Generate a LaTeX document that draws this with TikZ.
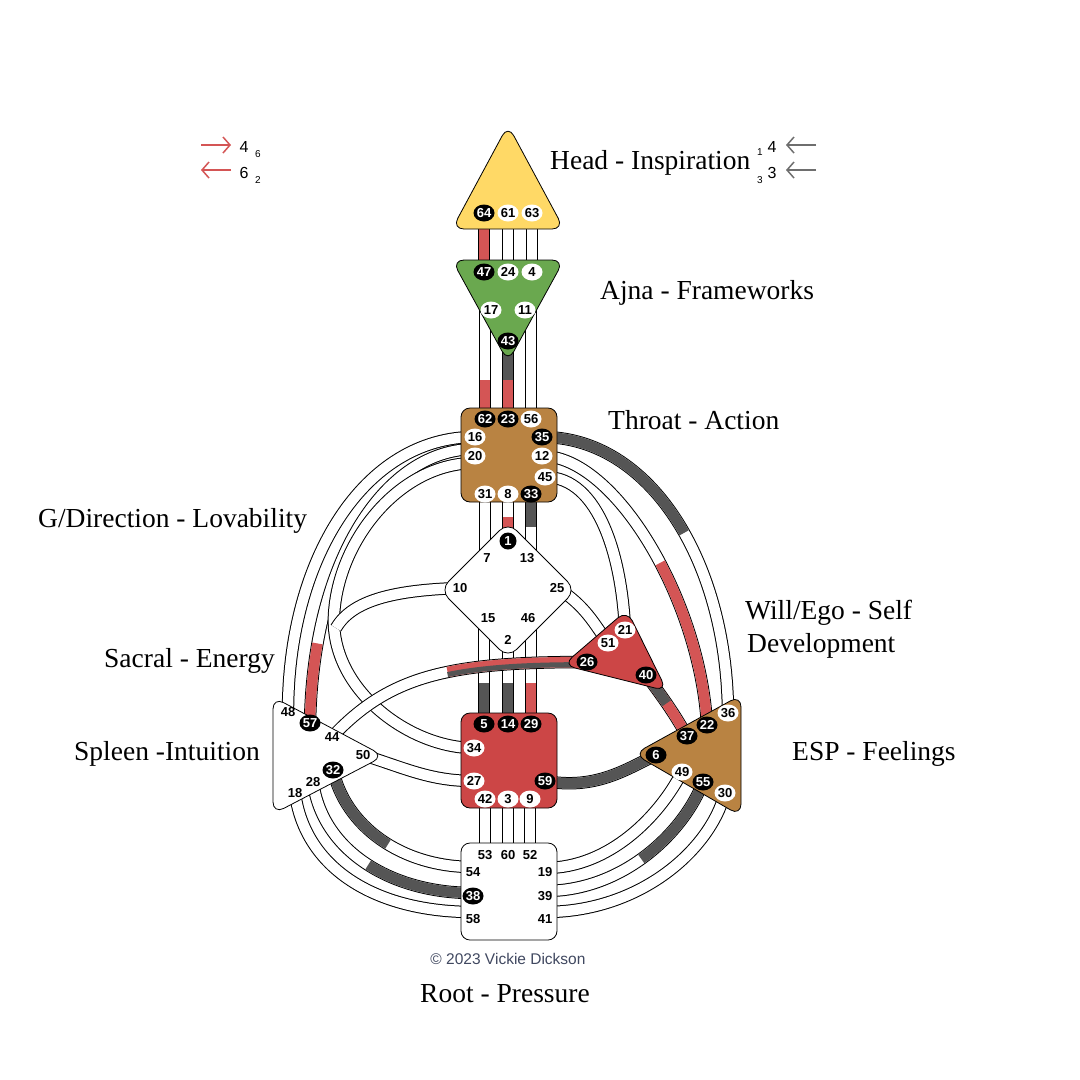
\documentclass[tikz,border=0pt]{standalone}
\usepackage{fontspec}
\setmainfont{Liberation Serif}
\setsansfont{Liberation Sans}
\usetikzlibrary{shapes.geometric,arrows.meta}
\definecolor{headc}{RGB}{255,217,102}
\definecolor{ajnac}{RGB}{106,168,79}
\definecolor{brownc}{RGB}{185,131,66}
\definecolor{redc}{RGB}{204,70,70}
\definecolor{chred}{RGB}{212,85,85}
\definecolor{chgray}{RGB}{85,85,85}
\definecolor{copyc}{RGB}{64,72,96}
\definecolor{arrgray}{RGB}{110,110,110}
\pgfdeclarelayer{bg}
\pgfdeclarelayer{chan}
\pgfdeclarelayer{ctr}
\pgfsetlayers{bg,chan,ctr,main}
\newcommand\gatefont{\sffamily\bfseries\fontsize{13}{13}\selectfont}
% channel = black edge + white core, then coloured pieces on top
\newcommand\chan[1]{%
  \draw[chanedge] #1;
  \draw[chancore] #1;}
\newcommand\chpart[3]{%
  \draw[chancore,draw=#1,dash pattern=on #2pt off 3000pt] #3;}
\tikzset{
  chanedge/.style={line width=12.4pt,draw=black},
  chancore/.style={line width=10.4pt,draw=white},
  ctrbox/.style={draw=black,line width=0.8pt,rounded corners=9pt},
  ctrtri/.style={ctrbox,rounded corners=12pt},
  gw/.style={ellipse,fill=white,inner sep=0pt,minimum width=21pt,minimum height=17pt,font=\gatefont},
  gb/.style={gw,fill=black,text=white},
  gt/.style={inner sep=0pt,font=\gatefont},
  lbl/.style={font=\fontsize{27.5}{30}\selectfont,inner sep=0pt,anchor=base west},
  legtxt/.style={font=\sffamily\fontsize{16}{16}\selectfont,inner sep=0pt},
  legsub/.style={font=\sffamily\fontsize{10}{10}\selectfont,inner sep=0pt},
  legarr/.style={line width=1.5pt,-{Straight Barb[length=7pt,width=16pt,line width=1.5pt]}},
}
\begin{document}
\begin{tikzpicture}[x=1pt,y=-1pt,line join=round]
\begin{pgfonlayer}{bg}
  \fill[white] (0,0) rectangle (1080,1080);
\end{pgfonlayer}
\useasboundingbox (0,0) rectangle (1080,1080);

% gates: head, ajna, throat
\node[gb] (n64) at (484,213) {64};
\node[gw] (n61) at (508,213) {61};
\node[gw] (n63) at (532,213) {63};
\node[gb] (n47) at (484,272) {47};
\node[gw] (n24) at (508,272) {24};
\node[gw] (n4) at (532,272) {4};
\node[gw] (n17) at (491,310) {17};
\node[gw] (n11) at (525,310) {11};
\node[gb] (n43) at (508,341) {43};
\node[gb] (n62) at (485,419) {62};
\node[gb] (n23) at (508,419) {23};
\node[gw] (n56) at (531,419) {56};
\node[gw] (n16) at (475,437) {16};
\node[gb] (n35) at (542,437) {35};
\node[gw] (n20) at (475,456) {20};
\node[gw] (n12) at (542,456) {12};
\node[gw] (n45) at (545,477) {45};
\node[gw] (n31) at (485,494) {31};
\node[gw] (n8) at (508,494) {8};
\node[gb] (n33) at (531,494) {33};
% G and will
\node[gb,minimum width=17pt] (n1) at (508,541) {1};
\node[gt] (n7) at (487,558) {7};
\node[gt] (n13) at (527,558) {13};
\node[gt] (n10) at (460,588) {10};
\node[gt] (n25) at (557,588) {25};
\node[gt] (n15) at (488,618) {15};
\node[gt] (n46) at (528,618) {46};
\node[gt] (n2) at (508,640) {2};
\node[gw] (n21) at (625,630) {21};
\node[gw] (n51) at (608,643) {51};
\node[gb] (n26) at (587,662) {26};
\node[gb] (n40) at (646,675) {40};
% sacral, spleen, esp, root
\node[gb] (n5) at (484,724) {5};
\node[gb] (n14) at (508,724) {14};
\node[gb] (n29) at (531,724) {29};
\node[gw] (n34) at (474,748) {34};
\node[gw] (n27) at (474,781) {27};
\node[gb] (n59) at (545,781) {59};
\node[gw] (n42) at (485,799) {42};
\node[gw] (n3) at (508,799) {3};
\node[gw] (n9) at (530,799) {9};
\node[gt] (n48) at (288,712) {48};
\node[gb] (n57) at (310,723) {57};
\node[gt] (n44) at (332,737) {44};
\node[gt] (n50) at (363,755) {50};
\node[gb] (n32) at (333,770) {32};
\node[gt] (n28) at (313,782) {28};
\node[gt] (n18) at (295,793) {18};
\node[gw] (n36) at (728,713) {36};
\node[gb] (n22) at (707,725) {22};
\node[gb] (n37) at (687,736) {37};
\node[gb] (n6) at (656,755) {6};
\node[gw] (n49) at (682,772) {49};
\node[gb] (n55) at (703,782) {55};
\node[gw] (n30) at (725,793) {30};
\node[gt] (n53) at (485,855) {53};
\node[gt] (n60) at (508,855) {60};
\node[gt] (n52) at (530,855) {52};
\node[gt] (n54) at (473,872) {54};
\node[gt] (n19) at (545,872) {19};
\node[gb] (n38) at (473,896) {38};
\node[gt] (n39) at (545,896) {39};
\node[gt] (n58) at (473,919) {58};
\node[gt] (n41) at (545,919) {41};

% centres
\begin{pgfonlayer}{ctr}
  \draw[ctrtri,fill=headc] (508,125) -- (564,229) -- (452,229) -- cycle;
  \draw[ctrtri,fill=ajnac] (452,260) -- (564,260) -- (508,362) -- cycle;
  \draw[ctrbox,fill=brownc] (461,408) rectangle (557,502);
  \draw[ctrtri,fill=white] (508,522) -- (576,590) -- (508,658) -- (440,590) -- cycle;
  \draw[ctrtri,fill=redc] (627,610) -- (667,691) -- (563,665) -- cycle;
  \draw[ctrbox,fill=redc] (461,713) rectangle (557,808);
  \draw[ctrtri,fill=white] (273,697) -- (384,756) -- (273,814) -- cycle;
  \draw[ctrtri,fill=brownc] (741,695) -- (741,816) -- (634,754) -- cycle;
  \draw[ctrbox,fill=white] (461,843) rectangle (557,940);
\end{pgfonlayer}

% channels
\begin{pgfonlayer}{chan}
  \chan{(n64.center) -- (n47.center)}
  \chpart{chred}{100}{(n64.center) -- (n47.center)}
  \chan{(n61.center) -- (n24.center)}
  \chan{(n63.center) -- (n4.center)}
  \chan{(n62.center) -- (n62.center |- n17.center)}
  \chpart{chred}{39}{(n62.center) -- (n62.center |- n17.center)}
  \chan{(n43.center) -- (n23.center)}
  \chpart{chgray}{39}{(n43.center) -- (n23.center)}
  \chpart{chred}{39}{(n23.center) -- (n43.center)}
  \chan{(n56.center) -- (n56.center |- n11.center)}
  \chan{(n31.center) -- (n31.center |- n7.center)}
  \chan{(n8.center) -- (n1.center)}
  \chpart{chred}{24}{(n1.center) -- (n8.center)}
  \chan{(n33.center) -- (n33.center |- n13.center)}
  \chpart{chgray}{33}{(n33.center) -- (n33.center |- n13.center)}
  \chan{(n5.center) -- (n5.center |- n15.center)}
  \chpart{chgray}{41}{(n5.center) -- (n5.center |- n15.center)}
  \chan{(n14.center) -- (n2.center)}
  \chpart{chgray}{41}{(n14.center) -- (n2.center)}
  \chan{(n29.center) -- (n29.center |- n46.center)}
  \chpart{chred}{41}{(n29.center) -- (n29.center |- n46.center)}
  \chan{(n42.center) -- (n53.center)}
  \chan{(n3.center) -- (n60.center)}
  \chan{(n9.center) -- (n52.center)}
  % left arcs
  \chan{(n16.center) .. controls (363,437) and (288,561) .. (n48.center)}
  \chan{([shift={(0,-7)}]n20.center) .. controls (385,449) and (313,560) .. (n57.center)}
  \chpart{chred}{80}{(n57.center) .. controls (313,560) and (385,449) .. ([shift={(0,-7)}]n20.center)}
  \chan{([shift={(0,7)}]n20.center) .. controls (400,463) and (338,540) .. (334,615) .. controls (330,690) and (410,748) .. (n34.center)}
  \chan{(n10.center) .. controls (395,590) and (352,600) .. (336,628)}
  \chan{(n50.center) .. controls (405,768) and (430,781) .. (n27.center)}
  \chan{(n44.center) .. controls (390,675) and (450,662) .. (n26.center)}
  \chpart{chred}{140}{(n26.center) .. controls (450,662) and (390,675) .. (n44.center)}
  \draw[line width=5pt,draw=chgray,dash pattern=on 140pt off 3000pt,transform canvas={yshift=-2.6pt}]
    (n26.center) .. controls (450,662) and (390,675) .. (n44.center);
  % right arcs
  \chan{(n35.center) .. controls (650,437) and (727,561) .. (n36.center)}
  \chpart{chgray}{180}{(n35.center) .. controls (650,437) and (727,561) .. (n36.center)}
  \chan{(n12.center) .. controls (615,456) and (700,600) .. (n22.center)}
  \chpart{chred}{170}{(n22.center) .. controls (700,600) and (615,456) .. (n12.center)}
  \chan{(n45.center) .. controls (600,477) and (622,560) .. (n21.center)}
  \chan{(n25.center) .. controls (585,605) and (595,625) .. (n51.center)}
  \chan{(n40.center) .. controls (665,700) and (675,715) .. (n37.center)}
  \chpart{chred}{200}{(n40.center) .. controls (665,700) and (675,715) .. (n37.center)}
  \chpart{chgray}{35}{(n40.center) .. controls (665,700) and (675,715) .. (n37.center)}
  \chan{(n59.center) .. controls (595,790) and (625,770) .. (n6.center)}
  \chpart{chgray}{300}{(n59.center) .. controls (595,790) and (625,770) .. (n6.center)}
  % root channels
  \chan{(n18.center) .. controls (305,868) and (375,912) .. ([shift={(0,-7)}]n58.center)}
  \chan{(n28.center) .. controls (322,850) and (390,893) .. ([shift={(0,-3)}]n38.center)}
  \chpart{chgray}{110}{([shift={(0,-3)}]n38.center) .. controls (390,893) and (322,850) .. (n28.center)}
  \chan{(n32.center) .. controls (345,825) and (400,867) .. ([shift={(0,-5)}]n54.center)}
  \chpart{chgray}{95}{(n32.center) .. controls (345,825) and (400,867) .. ([shift={(0,-5)}]n54.center)}
  \chan{([shift={(0,-4)}]n19.center) .. controls (610,868) and (660,815) .. (n49.center)}
  \chan{([shift={(0,-5)}]n39.center) .. controls (625,891) and (685,830) .. (n55.center)}
  \chpart{chgray}{100}{(n55.center) .. controls (685,830) and (625,891) .. ([shift={(0,-5)}]n39.center)}
  \chan{([shift={(0,-7)}]n41.center) .. controls (640,912) and (710,850) .. (n30.center)}
\end{pgfonlayer}

% labels
\node[lbl] (lhead) at (550,169) {Head - Inspiration};
\node[lbl] (lajna) at (600,299) {Ajna - Frameworks};
\node[lbl] (lthroat) at (608,429) {Throat - Action};
\node[lbl] (lg) at (38,527) {G/Direction - Lovability};
\node[lbl] (lwill) at (745,619) {Will/Ego - Self};
\node[lbl] (lwill2) at (747,652) {Development};
\node[lbl] (lsacral) at (104,667) {Sacral - Energy};
\node[lbl] (lspleen) at (74,760) {Spleen -Intuition};
\node[lbl] (lesp) at (792,760) {ESP - Feelings};
\node[lbl] (lroot) at (420,1002) {Root - Pressure};
\node[font=\sffamily\fontsize{15.5}{16}\selectfont,text=copyc] (copy) at (508,959) {\textcopyright{} 2023 Vickie Dickson};

% legend
\draw[legarr,chred] (201,145) -- (231,145);
\draw[legarr,chred] (231,170) -- (201,170);
\node[legtxt] (d4) at (244,147) {4};
\node[legsub] (d6) at (258,154) {6};
\node[legtxt] (d6b) at (244,173) {6};
\node[legsub] (d2) at (258,180) {2};
\node[legsub] (p1) at (760,152) {1};
\node[legtxt] (p4) at (772,147) {4};
\node[legsub] (p3) at (760,180) {3};
\node[legtxt] (p3b) at (772,173) {3};
\draw[legarr,arrgray] (816,145) -- (786,145);
\draw[legarr,arrgray] (816,170) -- (786,170);
\end{tikzpicture}
\end{document}
